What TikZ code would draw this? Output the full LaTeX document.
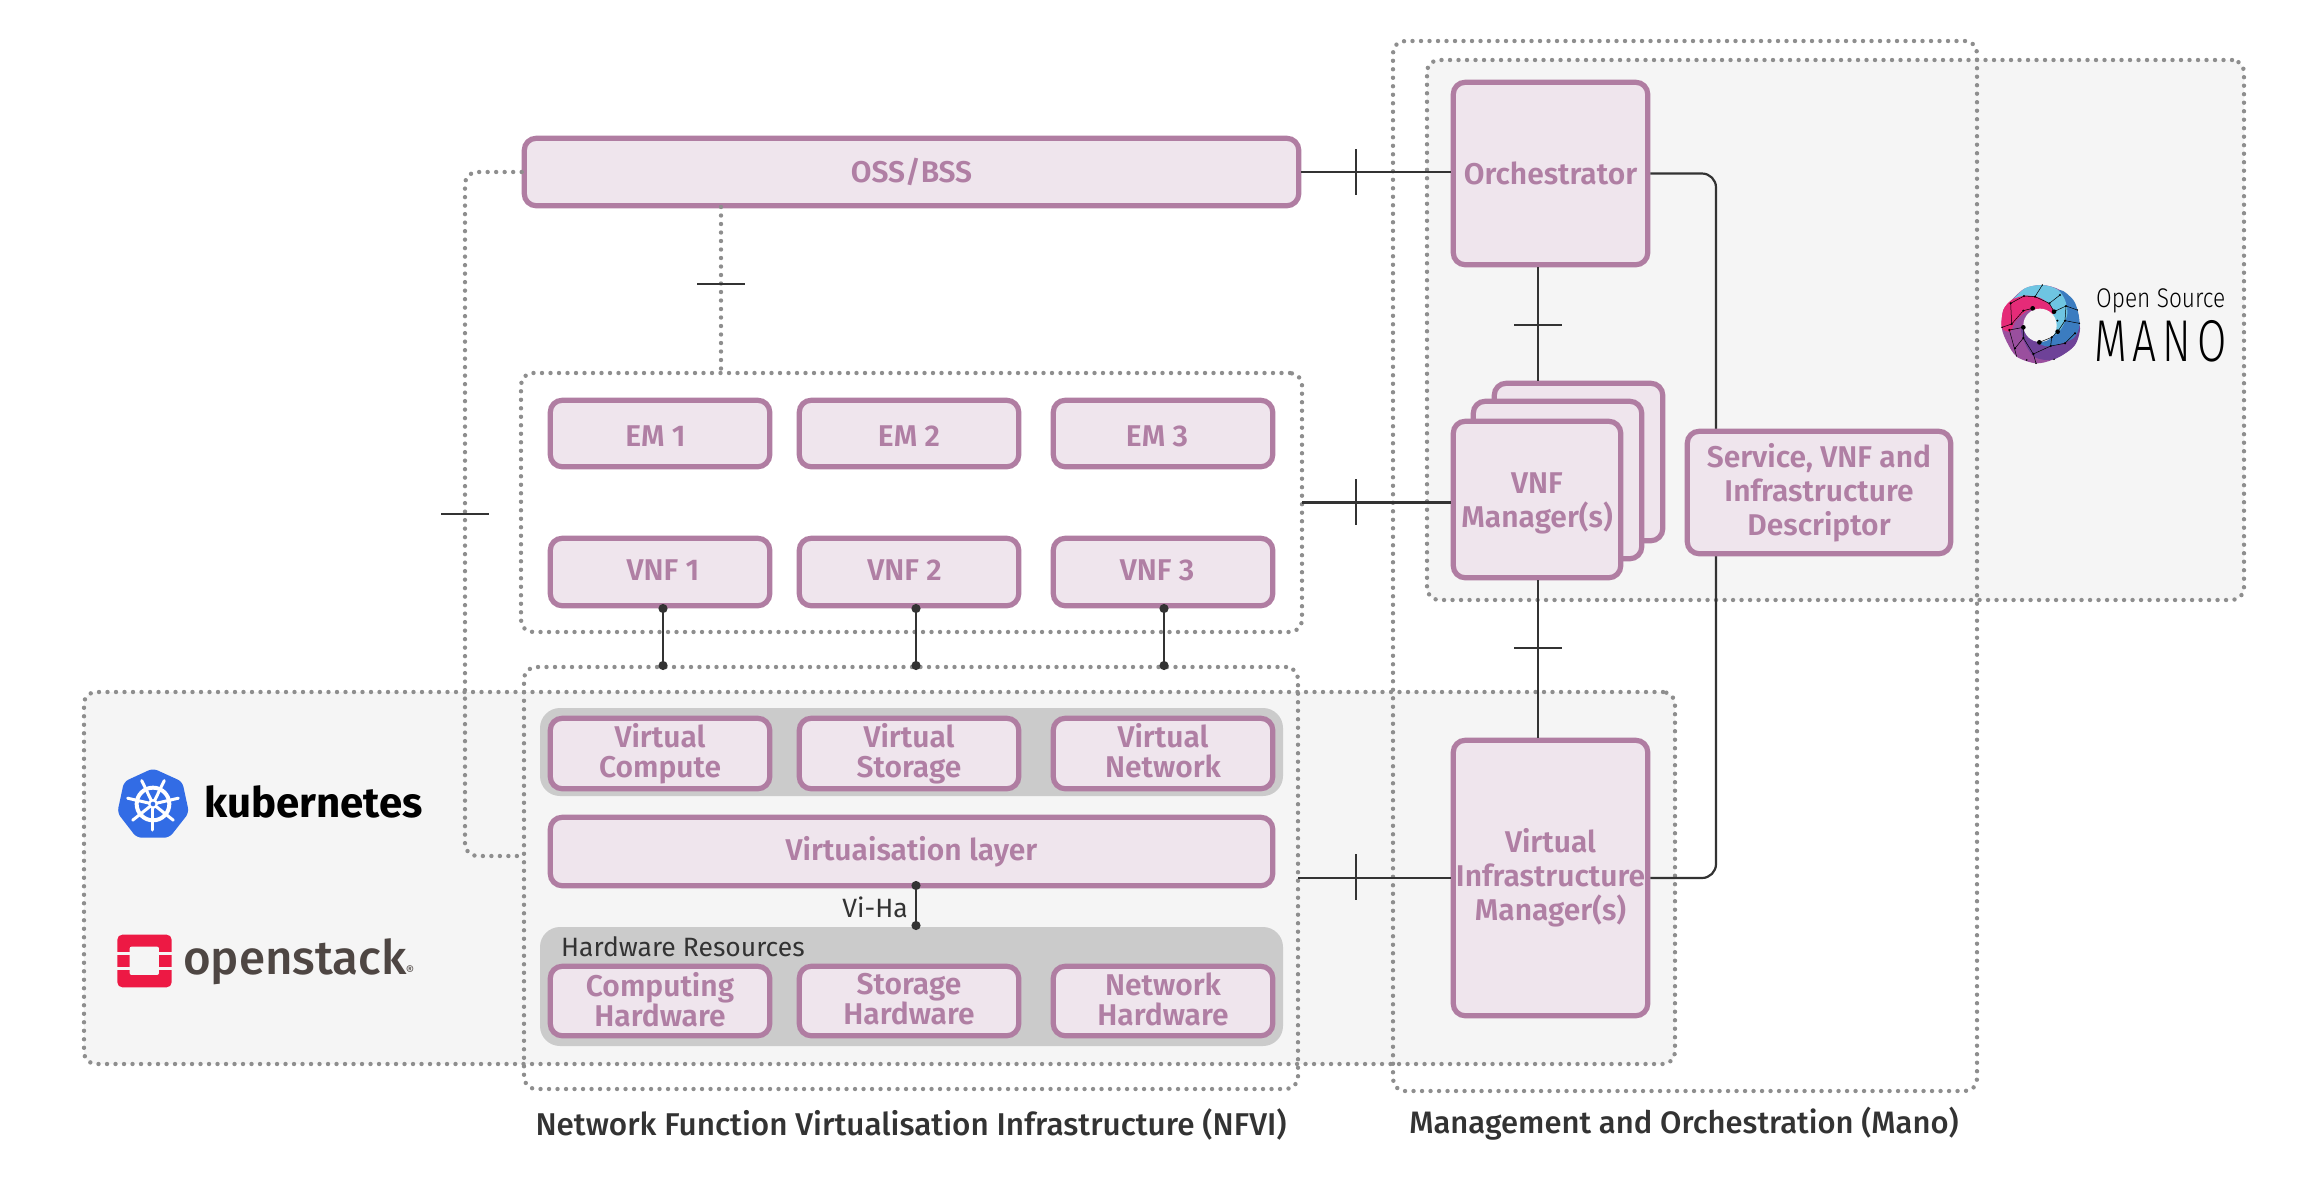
\documentclass[tikz,border=0pt]{standalone}
\usepackage{fontspec}
\setmainfont{Fira Sans SemiBold}
\newfontfamily\regf{Fira Sans}
\newfontfamily\medf{Fira Sans Medium}
\newfontfamily\blackf{Fira Sans Bold}
\newfontfamily\lightf{Fira Sans Light}[FakeStretch=0.84]
\newfontfamily\manof{Fira Sans Light}[FakeStretch=0.72,LetterSpace=10]
\usetikzlibrary{arrows.meta,calc}
\definecolor{pur}{HTML}{B07DA2}
\definecolor{purfill}{HTML}{EFE5ED}
\definecolor{purtxt}{HTML}{B07FA4}
\definecolor{dotc}{HTML}{8E8E8E}
\definecolor{panel}{HTML}{F5F5F5}
\definecolor{band}{HTML}{CBCBCB}
\definecolor{ink}{HTML}{333333}
\definecolor{kblue}{HTML}{326CE5}
\definecolor{ored}{HTML}{ED1944}
\definecolor{otxt}{HTML}{4E4643}
\tikzset{
  box/.style={draw=pur,fill=purfill,line width=5.2pt,rounded corners=12pt,text=purtxt,
    align=center,inner sep=0pt,font=\fontsize{30}{34}\selectfont},
  tightbox/.style={box,font=\fontsize{30}{30}\selectfont},
  dotbox/.style={draw=dotc,line width=4.4pt,line cap=round,dash pattern=on 0pt off 8.5pt,rounded corners=12pt,inner sep=0pt,outer sep=0pt},
  dotline/.style={draw=dotc,line width=4.4pt,line cap=round,dash pattern=on 0pt off 8.5pt,rounded corners=12pt},
  panelbox/.style={dotbox,fill=panel},
  bandbox/.style={fill=band,rounded corners=20pt,inner sep=0pt},
  conn/.style={draw=ink,line width=2.2pt},
  link/.style={conn,{Circle[length=9pt,width=9pt]}-{Circle[length=9pt,width=9pt]}},
  tickl/.style={draw=ink,line width=2.2pt},
  note/.style={text=ink,inner sep=0pt,font=\regf\fontsize{26.5}{26.5}\selectfont},
}
% name, x1,y1,x2,y2 outer edges, style, text
\newcommand\bx[7]{\node[#6,minimum width=\dimexpr #4pt-#2pt\relax,minimum height=\dimexpr #5pt-#3pt\relax]
  (#1) at ({(#2+#4)/2},{(#3+#5)/2}) {#7};}
\newcommand\pbx[7]{\node[#6,minimum width=\dimexpr #4pt-#2pt-2.5pt\relax,minimum height=\dimexpr #5pt-#3pt-2.5pt\relax]
  (#1) at ({(#2+#4)/2},{(#3+#5)/2}) {#7};}
\newcommand\vtick[2]{\coordinate (#1) at #2; \draw[tickl] ($(#1)+(0,-23)$) -- ($(#1)+(0,23)$);}
\newcommand\htick[2]{\coordinate (#1) at #2; \draw[tickl] ($(#1)+(-24,0)$) -- ($(#1)+(24,0)$);}
\newcommand\dn{\rule{0pt}{26pt}}
\newcommand\dsc{\vphantom{g}}
\newcommand\up{\rule[-3.5pt]{0pt}{0pt}}
\begin{document}
\begin{tikzpicture}[x=1pt,y=-1pt]
\useasboundingbox (0,0) rectangle (2316,1179);
% --- shaded panels
\bx{mano}{1427}{60}{2244}{600}{panelbox}{}
\bx{vim}{84}{692}{1675}{1064}{panelbox}{}
% --- grey bands
\bx{vband}{540}{708}{1283}{796}{bandbox}{}
\bx{hband}{540}{927}{1283}{1046}{bandbox}{}
% --- group outlines
\bx{emgroup}{521}{373}{1302}{632}{dotbox}{}
\bx{nfvi}{524}{667}{1298}{1089}{dotbox}{}
\bx{manoouter}{1393}{41}{1977}{1091}{dotbox}{}
% --- main boxes
\pbx{oss}{523}{137}{1300}{207}{box}{OSS/BSS}
\pbx{em1}{549}{399}{771}{468}{box}{\kern-9pt\dn EM 1}
\pbx{em2}{798}{399}{1020}{468}{box}{\dn EM 2}
\pbx{em3}{1052}{399}{1274}{468}{box}{\kern-12pt\dn EM 3}
\pbx{vnf1}{549}{537}{771}{607}{box}{\kern6pt\up VNF 1}
\pbx{vnf2}{798}{537}{1020}{607}{box}{\kern-9pt\up VNF 2}
\pbx{vnf3}{1052}{537}{1274}{607}{box}{\kern-12pt\up VNF 3}
\pbx{vcomp}{549}{717}{771}{790}{tightbox}{Virtual\\Compute\dsc}
\pbx{vstor}{798}{717}{1020}{790}{tightbox}{Virtual\\Storage\dsc}
\pbx{vnet}{1052}{717}{1274}{790}{tightbox}{Virtual\\Network\dsc}
\pbx{vlayer}{549}{816}{1274}{887}{box}{Virtuaisation layer}
\pbx{hcomp}{549}{965}{771}{1037}{tightbox}{Computing\\Hardware\up}
\pbx{hstor}{798}{965}{1020}{1037}{tightbox}{Storage\\Hardware\up}
\pbx{hnet}{1052}{965}{1274}{1037}{tightbox}{Network\\Hardware\up}
% --- connectors
\coordinate (rx) at (1716,500);
\coordinate (ossdot) at (721,207);
\coordinate (emdot) at (721,373);
\coordinate (lx) at (465,500);
\coordinate (leftend) at (523,856);
\pbx{orch}{1452}{81}{1649}{266}{box}{Orchestrator}
\pbx{vimbox}{1452}{739}{1649}{1017}{box}{\rule{0pt}{24pt}Virtual\\Infrastructure\\Manager(s)}
\pbx{vnfmc}{1493}{382}{1664}{542}{box}{}
\draw[conn] (orch.south -| 1538,0) -- (vnfmc.north -| 1538,0);
\pbx{vnfmb}{1472}{400}{1643}{560}{box}{}
\pbx{vnfm}{1452}{420}{1622}{579}{box}{\rule{0pt}{28pt}VNF\\Manager(s)}
\draw[conn] (oss.east) -- (oss.east -| orch.west);
\draw[conn] (emgroup.east) -- (emgroup.east -| vnfm.west);
\draw[conn] (nfvi.east) -- (vimbox.west);
\draw[conn] (vnfm.south -| 1538,0) -- (vimbox.north -| 1538,0);
\draw[conn,rounded corners=14pt] (orch.east) -- (orch.east -| rx) -- (vimbox.east -| rx) -- (vimbox.east);
\pbx{desc}{1686}{430}{1952}{555}{box}{Service, VNF and\\Infrastructure\\Descriptor}
\draw[dotline] (ossdot) -- (emdot);
\draw[dotline] (oss.west) -- (oss.west -| lx) -- (leftend -| lx) -- (leftend);
\vtick{t1}{(1356,172)}
\vtick{t2}{(1356,502)}
\vtick{t3}{(1356,877)}
\htick{t4}{(1538,325)}
\htick{t5}{(1538,648)}
\htick{t6}{(721,284)}
\htick{t7}{(465,514)}
\coordinate (a1) at (663,604); \coordinate (b1) at (663,670);
\coordinate (a2) at (916,604); \coordinate (b2) at (916,670);
\coordinate (a3) at (1164,604); \coordinate (b3) at (1164,670);
\coordinate (a4) at (916,881); \coordinate (b4) at (916,930);
\draw[link] (a1) -- (b1);
\draw[link] (a2) -- (b2);
\draw[link] (a3) -- (b3);
\draw[link] (a4) -- (b4);
% --- labels
\node[note,anchor=east] (viha) at (908,907) {Vi-Ha};
\node[note,anchor=west] (hwres) at (561,947) {Hardware Resources};
\node[text=ink,inner sep=0pt,font=\medf\fontsize{31.5}{32}\selectfont] (capnfvi) at (911,1124) {Network Function Virtualisation Infrastructure (NFVI)};
\node[text=ink,inner sep=0pt,font=\medf\fontsize{31}{32}\selectfont] (capmano) at (1684,1124) {Management and Orchestration (Mano)};
% --- kubernetes logo
\begin{scope}[shift={(90,740)},x=0.3333pt,y=-0.3333pt]
\fill[kblue,rounded corners=5pt] (189,85) -- (277,125) -- (297,218) -- (238,293) -- (140,293) -- (82,218) -- (102,125) -- cycle;
\draw[white,line width=4pt] (189,192) circle (49);
\foreach \a in {90,141.4,192.9,244.3,295.7,347.1,38.6}{
  \draw[white,line width=3pt,line cap=round] (189,192) ++(\a:14) -- ++(\a:64);
}
\fill[white] (189,192) circle (15);
\fill[kblue] (189,192) circle (7);
\end{scope}
\node[anchor=base west,inner sep=0pt,font=\blackf\fontsize{42}{42}\selectfont,text=black] (k8s) at (204,817) {kubernetes};
% --- openstack logo
\begin{scope}[shift={(90,740)},x=0.3333pt,y=-0.3333pt]
\fill[ored,rounded corners=5pt] (82,584) rectangle (245,742);
\fill[panel,rounded corners=2pt] (119,620) rectangle (207,705);
\fill[panel] (82,637) rectangle (119,645);
\fill[panel] (207,637) rectangle (245,645);
\fill[panel] (82,681) rectangle (119,689);
\fill[panel] (207,681) rectangle (245,689);
\end{scope}
\node[anchor=base west,inner sep=0pt,font=\medf\fontsize{47.5}{47.5}\selectfont,text=otxt] (ostack) at (183,974) {openstack};
\node[anchor=center,inner sep=0pt,font=\regf\fontsize{13}{13}\selectfont,text=otxt] (oreg) at (410,971) {®};
% --- OSM logo
\begin{scope}[shift={(1980,250)},x=0.3333pt,y=-0.3333pt]
\definecolor{mcyan}{HTML}{6EC5E2}
\definecolor{mblue}{HTML}{3B7CC0}
\definecolor{mpurple}{HTML}{6E4298}
\definecolor{mviolet}{HTML}{9A4F9E}
\definecolor{mpink}{HTML}{E52B78}
\fill[mviolet] plot[smooth cycle] coordinates {(187,105) (240,120) (285,165) (298,225) (280,290) (220,328) (168,340) (110,320) (80,275) (65,232) (70,180) (95,150) (135,115)};
\fill[mpurple] plot[smooth cycle] coordinates {(298,225) (285,285) (222,328) (165,322) (135,280) (125,235) (180,230) (240,230)};
\fill[mblue] plot[smooth cycle] coordinates {(240,120) (280,150) (295,190) (298,230) (280,265) (230,285) (195,288) (170,270) (190,220) (215,160)};
\fill[mcyan] plot[smooth cycle] coordinates {(95,158) (135,115) (187,105) (232,118) (255,150) (262,190) (250,225) (225,255) (200,210) (190,170) (150,150)};
\fill[mpink] plot[smooth cycle] coordinates {(65,232) (70,180) (95,150) (135,137) (175,142) (205,160) (225,190) (190,190) (150,180) (125,195) (105,215) (90,245)};
\fill[panel] (180,226) circle (50);
\draw[black,line width=0.5pt] (187,105) -- (165,140) -- (208,160) -- (240,135) (165,140) -- (132,138) -- (92,160) -- (95,222) -- (66,232) (95,222) -- (130,182) -- (158,175) (208,160) -- (222,185) -- (258,168) -- (292,180) (258,168) -- (255,212) -- (298,220) (255,212) -- (233,245) -- (215,262) -- (178,277) (215,262) -- (212,288) -- (255,280) -- (285,250) (212,288) -- (160,312) -- (168,340) (160,312) -- (130,264) -- (130,232) -- (88,240) -- (110,320) (130,264) -- (105,295);
\foreach \x/\y/\r in {158/175/7,222/185/7,130/232/7,178/277/7,233/245/7,187/105/2.5,165/140/3.5,208/160/3.5,240/135/3.5,132/138/3.5,92/160/3.5,130/182/3.5,95/222/3.5,88/240/3.5,66/232/2.5,258/168/3.5,292/180/2.5,255/212/3.5,298/220/2.5,232/212/3.5,215/262/3.5,212/288/3.5,255/280/3.5,285/250/3.5,160/312/3.5,168/340/2.5,130/264/3.5,105/295/3.5,222/328/2.5,140/330/2.5}{
 \fill[black] (\x,\y) circle (\r);}
\end{scope}
\node[anchor=base west,inner sep=0pt,font=\lightf\fontsize{27}{27}\selectfont,text=black] (osmtop) at (2096,307) {Open Source};
\node[anchor=base west,inner sep=0pt,font=\manof\fontsize{59}{59}\selectfont,text=black] (osmmain) at (2094,361) {MANO};
\end{tikzpicture}
\end{document}
